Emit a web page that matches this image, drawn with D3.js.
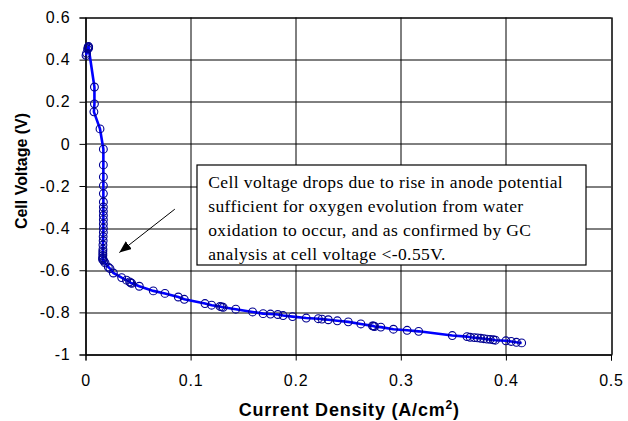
<!DOCTYPE html>
<html>
<head>
<meta charset="utf-8">
<script src="https://cdn.jsdelivr.net/npm/d3@7"></script>
<style>
  body { margin: 0; background: #fff; }
  svg { display: block; }
</style>
</head>
<body>
<script>
// current density (A/cm2) and cell voltage (V)
var currentDensity = [0.0005, 0.001, 0.002, 0.0025, 0.003, 0.003,
  0.0085, 0.0085, 0.008, 0.0138, 0.017, 0.017, 0.017, 0.017, 0.017, 0.017,
  0.017, 0.017, 0.017, 0.017, 0.017, 0.017, 0.017, 0.0168, 0.0168, 0.0166, 0.0166,
  0.0165, 0.0165, 0.0165, 0.0164, 0.0164, 0.0164,
  0.0175, 0.0186, 0.0217, 0.0233, 0.0265, 0.0344, 0.039, 0.042, 0.043, 0.044, 0.0512,
  0.0645, 0.0756, 0.0883, 0.094, 0.1137, 0.12, 0.128, 0.1296, 0.131, 0.143, 0.159,
  0.169, 0.176, 0.183, 0.188, 0.197, 0.21, 0.2215, 0.225, 0.231, 0.2396, 0.25,
  0.262, 0.273, 0.274, 0.275, 0.281, 0.293, 0.306, 0.317, 0.349, 0.363, 0.366,
  0.37, 0.373, 0.376, 0.379, 0.382, 0.385, 0.388, 0.39, 0.40, 0.405, 0.41, 0.415];
var cellVoltage = [0.42, 0.43, 0.45, 0.46, 0.462, 0.455,
  0.27, 0.19, 0.152, 0.071, -0.025, -0.1, -0.157, -0.198, -0.236, -0.276,
  -0.30, -0.32, -0.34, -0.36, -0.38, -0.40, -0.42, -0.44, -0.46, -0.48, -0.50,
  -0.51, -0.52, -0.53, -0.54, -0.545, -0.55,
  -0.556, -0.565, -0.585, -0.592, -0.613, -0.635, -0.647, -0.655, -0.66, -0.662, -0.676,
  -0.698, -0.71, -0.727, -0.738, -0.758, -0.766, -0.772, -0.774, -0.776, -0.785, -0.798,
  -0.806, -0.808, -0.81, -0.815, -0.82, -0.827, -0.83, -0.832, -0.835, -0.84, -0.845,
  -0.855, -0.864, -0.865, -0.867, -0.87, -0.88, -0.885, -0.89, -0.91, -0.915, -0.918,
  -0.92, -0.921, -0.923, -0.925, -0.927, -0.928, -0.93, -0.932, -0.935, -0.938, -0.942, -0.945];

var xTicks = [0, 0.1, 0.2, 0.3, 0.4, 0.5];
var yTicks = [0.6, 0.4, 0.2, 0, -0.2, -0.4, -0.6, -0.8, -1];
var noteLines = ["Cell voltage drops due to rise in anode potential",
  "sufficient for oxygen evolution from water",
  "oxidation to occur, and as confirmed by GC",
  "analysis at cell voltage <-0.55V."];

var W = 628, H = 421;
var margin = {left: 85.5, top: 17.5, right: 17, bottom: 66.5};
var pw = W - margin.left - margin.right, ph = H - margin.top - margin.bottom;

var x = d3.scaleLinear().domain([0, 0.5]).range([0, pw]);
var y = d3.scaleLinear().domain([-1, 0.6]).range([ph, 0]);

var svg = d3.select("body").append("svg")
    .attr("width", W)
    .attr("height", H);

var g = svg.append("g")
    .attr("transform", "translate(" + margin.left + "," + margin.top + ")");

// gridlines
g.append("g").selectAll("line").data(yTicks).enter().append("line")
    .attr("x1", 0).attr("x2", pw)
    .attr("y1", function(d) { return Math.round(y(d)) + 0.5; })
    .attr("y2", function(d) { return Math.round(y(d)) + 0.5; })
    .attr("stroke", "#000").attr("stroke-width", 1);
g.append("g").selectAll("line").data(xTicks).enter().append("line")
    .attr("x1", function(d) { return Math.round(x(d)) + 0.5; })
    .attr("x2", function(d) { return Math.round(x(d)) + 0.5; })
    .attr("y1", 0).attr("y2", ph)
    .attr("stroke", "#000").attr("stroke-width", 1);

// axes
var xAxis = g.append("g")
    .attr("transform", "translate(0," + ph + ")")
    .call(d3.axisBottom(x).tickValues(xTicks).tickSize(6).tickPadding(10)
      .tickFormat(function(d) { return d; }));
var yAxis = g.append("g")
    .call(d3.axisLeft(y).tickValues(yTicks).tickSize(6).tickPadding(9)
      .tickFormat(function(d) { return d; }));
[xAxis, yAxis].forEach(function(a) {
  a.select(".domain").attr("stroke", "#000");
  a.selectAll(".tick line").attr("stroke", "#000");
  a.selectAll("text")
    .attr("fill", "#000")
    .style("font-family", "Arial, 'Liberation Sans', sans-serif")
    .style("font-size", "16px")
    .style("letter-spacing", "0.8px");
});
xAxis.selectAll("text").attr("dy", "0.95em");

// plot border
g.append("rect")
    .attr("x", 0.5).attr("y", 0.5)
    .attr("width", Math.round(pw)).attr("height", Math.round(ph))
    .attr("fill", "none").attr("stroke", "#000");

// series
var pts = currentDensity.map(function(d, i) { return [d, cellVoltage[i]]; });
var line = d3.line()
    .x(function(d) { return x(d[0]); })
    .y(function(d) { return y(d[1]); });
g.append("path")
    .datum(pts)
    .attr("d", line)
    .attr("fill", "none")
    .attr("stroke", "#0000ff")
    .attr("stroke-width", 2.6);
g.selectAll(".pt").data(pts).enter().append("circle")
    .attr("class", "pt")
    .attr("cx", function(d) { return x(d[0]); })
    .attr("cy", function(d) { return y(d[1]); })
    .attr("r", 3.9)
    .attr("fill", "none")
    .attr("stroke", "#000090")
    .attr("stroke-width", 1.1);

// annotation box
var bx0 = x(0.1058), bx1 = x(0.476), by0 = y(-0.098), by1 = y(-0.573);
g.append("rect")
    .attr("x", Math.round(bx0) + 0.5).attr("y", Math.round(by0) + 0.5)
    .attr("width", Math.round(bx1 - bx0)).attr("height", Math.round(by1 - by0))
    .attr("fill", "#fff").attr("stroke", "#000").attr("stroke-width", 1.2);
g.append("g").selectAll("text").data(noteLines).enter().append("text")
    .attr("x", bx0 + 11.5)
    .attr("y", function(d, i) { return by0 + 23 + i * 24; })
    .style("font-family", "'Times New Roman', 'Liberation Serif', serif")
    .style("font-size", "17.5px")
    .style("letter-spacing", "0.4px")
    .attr("fill", "#000")
    .text(function(d) { return d; });

// arrow
svg.append("defs").append("marker")
    .attr("id", "ah")
    .attr("viewBox", "0 0 12 10")
    .attr("refX", 12).attr("refY", 5)
    .attr("markerWidth", 12).attr("markerHeight", 10)
    .attr("markerUnits", "userSpaceOnUse")
    .attr("orient", "auto")
  .append("path")
    .attr("d", "M0,0L12,5L0,10Z")
    .attr("fill", "#000");
g.append("line")
    .attr("x1", x(0.085)).attr("y1", y(-0.31))
    .attr("x2", x(0.0322)).attr("y2", y(-0.516))
    .attr("stroke", "#000").attr("stroke-width", 1)
    .attr("marker-end", "url(#ah)");

// axis titles
var xt = svg.append("text")
    .attr("x", margin.left + pw / 2 + 1)
    .attr("y", 416)
    .attr("text-anchor", "middle")
    .style("font-family", "Arial, 'Liberation Sans', sans-serif")
    .style("font-size", "18px")
    .style("font-weight", "bold")
    .style("letter-spacing", "0.8px")
    .text("Current Density (A/cm");
xt.append("tspan").attr("dy", -7).style("font-size", "12px").text("2");
xt.append("tspan").attr("dy", 7).text(")");

svg.append("text")
    .attr("transform", "translate(27," + 171 + ") rotate(-90)")
    .attr("text-anchor", "middle")
    .style("font-family", "Arial, 'Liberation Sans', sans-serif")
    .style("font-size", "16px")
    .style("font-weight", "bold")
    .text("Cell Voltage (V)");
</script>
</body>
</html>
